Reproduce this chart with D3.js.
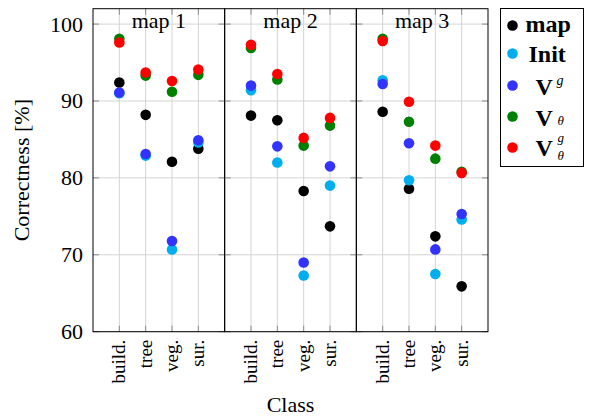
<!DOCTYPE html>
<html>
<head>
<meta charset="utf-8">
<script src="https://cdn.jsdelivr.net/npm/d3@7"></script>
<style>
  body { margin: 0; background: #fff; }
  svg { display: block; }
  text { font-family: 'Liberation Serif', 'DejaVu Serif', serif; }
</style>
</head>
<body>
<svg id="chart" width="589" height="418"></svg>
<script>
'use strict';

// Data.
const panels = ['map 1', 'map 2', 'map 3'];
const classes = ['build.', 'tree', 'veg.', 'sur.'];
const yTicks = [60, 70, 80, 90, 100];

// One row per panel, one value per class.
const mapValues = [[92.4, 88.2, 82.1, 83.8], [88.1, 87.5, 78.3, 73.7], [88.6, 78.6, 72.4, 65.9]];
const initValues = [[91.0, 82.9, 70.7, 84.6], [91.4, 82.0, 67.3, 79.0], [92.7, 79.7, 67.5, 74.6]];
const vgValues = [[91.1, 83.1, 71.8, 84.9], [92.0, 84.1, 69.0, 81.5], [92.2, 84.5, 70.7, 75.3]];
const vthetaValues = [[98.1, 93.3, 91.2, 93.4], [96.9, 92.8, 84.2, 86.8], [98.1, 87.3, 82.5, 80.8]];
const vthetaGValues = [[97.6, 93.7, 92.6, 94.1], [97.3, 93.5, 85.2, 87.8], [97.8, 89.9, 84.2, 80.65]];

const series = [
  { key: 'map', color: '#000000', values: mapValues },
  { key: 'Init', color: '#00aeef', values: initValues },
  { key: 'Vg', color: '#3333ff', values: vgValues },
  { key: 'Vtheta', color: '#008000', values: vthetaValues },
  { key: 'VthetaG', color: '#ff0000', values: vthetaGValues }
];

const svg = d3.select('#chart');
const serif = "'Liberation Serif', 'DejaVu Serif', serif";

// Plot box
const plotLeft = 93, plotRight = 488, plotTop = 8.7, plotBottom = 331.7;
const radius = 5.3;
const tickLen = 6;

const panelScale = d3.scaleBand().domain(panels).range([plotLeft, plotRight]).padding(0);
const y = d3.scaleLinear().domain([60, 102]).range([plotBottom, plotTop]);

panels.forEach((name, pi) => {
  const x0 = panelScale(name);
  const x1 = x0 + panelScale.bandwidth();
  const x = d3.scalePoint().domain(classes).range([x0, x1]).padding(1);
  const g = svg.append('g').classed('panel', true);

  // grid
  g.append('g').selectAll('line').data(yTicks).join('line')
    .attr('x1', x0).attr('x2', x1)
    .attr('y1', d => y(d)).attr('y2', d => y(d))
    .attr('stroke', '#d4d4d4').attr('stroke-width', 1);
  g.append('g').selectAll('line').data(classes).join('line')
    .attr('x1', d => x(d)).attr('x2', d => x(d))
    .attr('y1', plotTop).attr('y2', plotBottom)
    .attr('stroke', '#d4d4d4').attr('stroke-width', 1);

  // tick marks on the inside of the box
  const ticks = g.append('g').attr('stroke', '#8c8c8c').attr('stroke-width', 1);
  yTicks.forEach(t => {
    ticks.append('line').attr('x1', x0).attr('x2', x0 + tickLen).attr('y1', y(t)).attr('y2', y(t));
    ticks.append('line').attr('x1', x1 - tickLen).attr('x2', x1).attr('y1', y(t)).attr('y2', y(t));
  });
  classes.forEach(c => {
    ticks.append('line').attr('x1', x(c)).attr('x2', x(c)).attr('y1', plotBottom - tickLen).attr('y2', plotBottom);
    ticks.append('line').attr('x1', x(c)).attr('x2', x(c)).attr('y1', plotTop).attr('y2', plotTop + tickLen);
  });

  // border
  g.append('rect')
    .attr('x', x0).attr('y', plotTop)
    .attr('width', x1 - x0).attr('height', plotBottom - plotTop)
    .attr('fill', 'none').attr('stroke', '#000').attr('stroke-width', 1);

  // title
  g.append('text')
    .attr('x', (x0 + x1) / 2).attr('y', 28)
    .attr('text-anchor', 'middle')
    .attr('font-family', serif)
    .attr('font-size', 22)
    .text(name);

  // class labels, rotated
  g.append('g').selectAll('text').data(classes).join('text')
    .attr('transform', d => `translate(${x(d)},${plotBottom + 8}) rotate(-90)`)
    .attr('text-anchor', 'end')
    .attr('dy', '0.32em')
    .attr('font-family', serif)
    .attr('font-size', 19)
    .text(d => d);

  // points, drawn series by series so later ones sit on top
  series.forEach(s => {
    g.append('g').selectAll('circle').data(s.values[pi]).join('circle')
      .attr('cx', (d, i) => x(classes[i]))
      .attr('cy', d => y(d))
      .attr('r', radius)
      .attr('fill', s.color);
  });
});

// y axis labels
svg.append('g').selectAll('text').data(yTicks).join('text')
  .attr('x', 83).attr('y', d => y(d))
  .attr('dy', '0.34em')
  .attr('text-anchor', 'end')
  .attr('font-family', serif)
  .attr('font-size', 22)
  .text(d => d);

svg.append('text')
  .attr('transform', `translate(29,${(plotTop + plotBottom) / 2}) rotate(-90)`)
  .attr('text-anchor', 'middle')
  .attr('font-family', serif)
  .attr('font-size', 22)
  .text('Correctness [%]');

svg.append('text')
  .attr('x', (plotLeft + plotRight) / 2).attr('y', 412)
  .attr('text-anchor', 'middle')
  .attr('font-family', serif)
  .attr('font-size', 22)
  .text('Class');

// legend
const legend = svg.append('g').attr('transform', 'translate(500.5,8.5)');
legend.append('rect')
  .attr('width', 83).attr('height', 158)
  .attr('fill', '#fff').attr('stroke', '#000').attr('stroke-width', 1);

const rowY = [17, 45, 77, 108, 139];
series.forEach((s, i) => {
  legend.append('circle').attr('cx', 12).attr('cy', rowY[i]).attr('r', radius).attr('fill', s.color);
});

const lt = (x, yy, size) => legend.append('text')
  .attr('x', x).attr('y', yy)
  .attr('font-family', serif)
  .attr('font-size', size);
lt(25, rowY[0] + 6, 24).attr('font-weight', 'bold').text('map');
lt(28, rowY[1] + 8, 24).attr('font-weight', 'bold').text('Init');

lt(35, rowY[2] + 9, 24).attr('font-weight', 'bold').text('V');
lt(56, rowY[2] - 1, 14).attr('font-style', 'italic').text('g');

lt(35, rowY[3] + 9, 24).attr('font-weight', 'bold').text('V');
lt(57, rowY[3] + 8, 13).attr('font-style', 'italic').text('θ');

lt(35, rowY[4] + 8, 24).attr('font-weight', 'bold').text('V');
lt(57, rowY[4] - 6, 13).attr('font-style', 'italic').text('g');
lt(57, rowY[4] + 12, 13).attr('font-style', 'italic').text('θ');
</script>
</body>
</html>
